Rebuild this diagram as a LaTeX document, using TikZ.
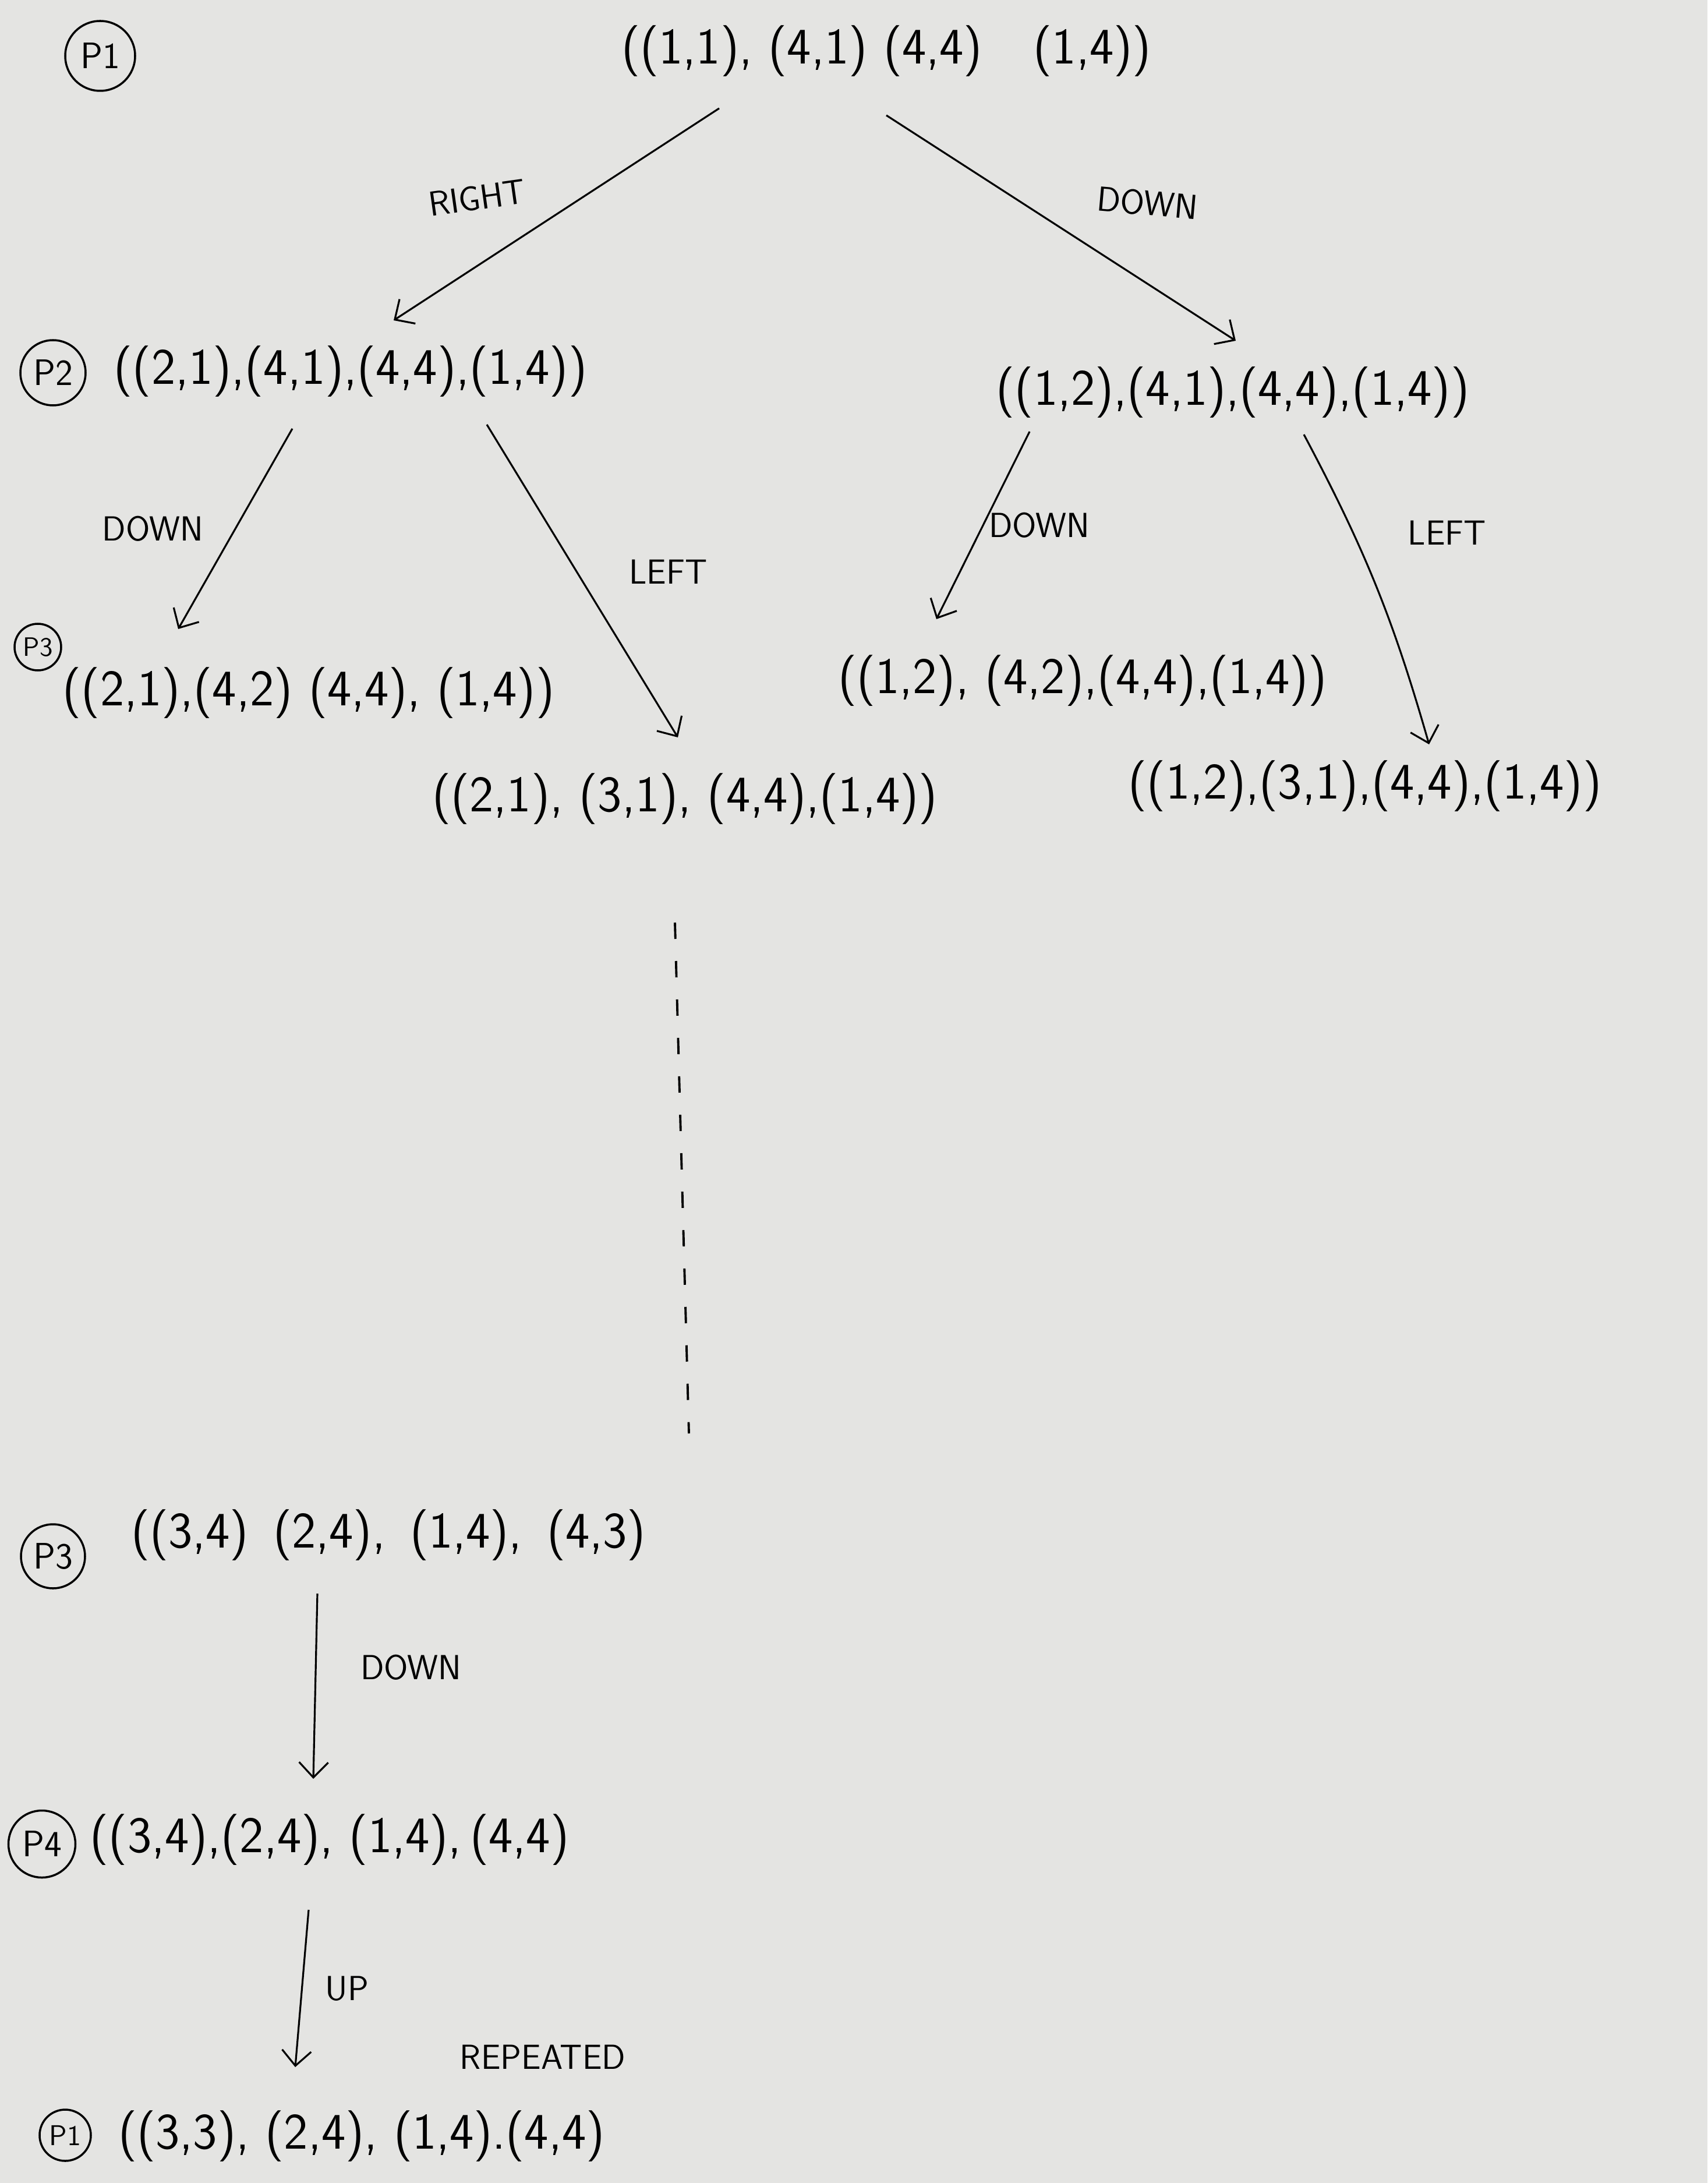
\documentclass[tikz,border=0pt]{standalone}
\usepackage{tikz}
\usetikzlibrary{arrows.meta,positioning,calc}
\definecolor{paper}{RGB}{228,228,226}

\begin{document}
\begin{tikzpicture}[
  state/.style  = {inner sep=2pt, anchor=center,
                   font=\sffamily\fontsize{25}{29}\selectfont},
  plabel/.style = {draw, circle, line width=1pt, inner sep=0pt,
                   font=\sffamily\fontsize{18}{21}\selectfont},
  mv/.style     = {inner sep=1pt, font=\sffamily\fontsize{17}{20}\selectfont},
  arr/.style    = {-{Straight Barb[length=2.6mm,width=5mm]}, line width=0.9pt},
  dotline/.style= {line width=1.1pt, dash pattern=on 0.28cm off 0.38cm},
]
\fill[paper] (0,0) rectangle (29.32,-37.48);
\useasboundingbox (0,0) rectangle (29.32,-37.48);

\node[plabel, minimum width=1.2cm, minimum height=1.05cm] (p1a) at (1.72,-0.96) {P1};
\node[state] (root) at (15.22,-0.88) {((1,1), (4,1) (4,4)\quad (1,4))};

\node[plabel, minimum size=1.12cm] (p2) at (0.91,-6.40) {P2};
\node[state] (s21) at (6.02,-6.38) {((2,1),(4,1),(4,4),(1,4))};
\node[state] (s12) at (21.17,-6.74) {((1,2),(4,1),(4,4),(1,4))};

\node[plabel, minimum size=0.8cm, font=\sffamily\fontsize{13}{15}\selectfont] (p3a) at (0.65,-11.11) {P3};
\node[state] (s2142) at (5.30,-11.90) {((2,1),(4,2) (4,4), (1,4))};
\node[state] (s2131) at (11.76,-13.72) {((2,1), (3,1), (4,4),(1,4))};
\node[state] (s1242) at (18.59,-11.69) {((1,2), (4,2),(4,4),(1,4))};
\node[state] (s1231) at (23.44,-13.50) {((1,2),(3,1),(4,4),(1,4))};

\node[plabel, minimum size=1.1cm] (p3b) at (0.91,-26.72) {P3};
\node[state] (s3443) at (6.67,-26.36) {((3,4)\, (2,4), \,(1,4), \,(4,3)};
\node[plabel, minimum size=1.15cm] (p4) at (0.72,-31.66) {P4};
\node[state] (s3444) at (5.66,-31.59) {((3,4),(2,4), (1,4),\,(4,4)};
\node[plabel, minimum size=0.88cm, font=\sffamily\fontsize{14}{16}\selectfont] (p1b) at (1.12,-36.66) {P1};
\node[state] (s3333) at (6.21,-36.68) {((3,3), (2,4), (1,4).(4,4)};

\draw[arr] ([shift={(-2.87,-0.98)}]root.center) -- ([shift={(0.74,0.88)}]s21.center)
  node[mv, pos=0.5, above left=0.15cm and 0.45cm, rotate=8] {RIGHT};
\draw[arr] ([shift={(0.00,-1.10)}]root.center) -- ([shift={(0.05,0.89)}]s12.center)
  node[mv, pos=0.45, above right=0.05cm and 0.85cm, rotate=-5] {DOWN};

\draw[arr] ([shift={(-1.00,-0.98)}]s21.center) -- ([shift={(-2.24,1.10)}]s2142.center)
  node[mv, pos=0.5, left=0.5cm] {DOWN};
\draw[arr] ([shift={(2.34,-0.91)}]s21.center) -- ([shift={(-0.12,1.06)}]s2131.center)
  node[mv, pos=0.47, right=0.85cm] {LEFT};

\draw[arr] ([shift={(-3.49,-0.67)}]s12.center) -- ([shift={(-2.51,1.06)}]s1242.center)
  node[mv, pos=0.5, right=0.05cm] {DOWN};
\draw[arr] ([shift={(1.22,-0.72)}]s12.center) to[bend left=6] ([shift={(1.10,0.72)}]s1231.center);
\node[mv] (lft2) at (24.85,-9.15) {LEFT};

\draw[dotline] ([shift={(-0.17,-2.12)}]s2131.center) -- ([shift={(5.16,1.75)}]s3443.center);

\draw[arr] ([shift={(-1.22,-1.00)}]s3443.center) -- ([shift={(-0.28,1.05)}]s3444.center)
  node[mv, pos=0.4, right=0.72cm] {DOWN};
\draw[arr] ([shift={(-0.36,-1.20)}]s3444.center) -- ([shift={(-1.14,1.19)}]s3333.center)
  node[mv, pos=0.5, right=0.35cm] {UP};
\node[mv] (rep) at (9.32,-35.32) {REPEATED};
\end{tikzpicture}
\end{document}
